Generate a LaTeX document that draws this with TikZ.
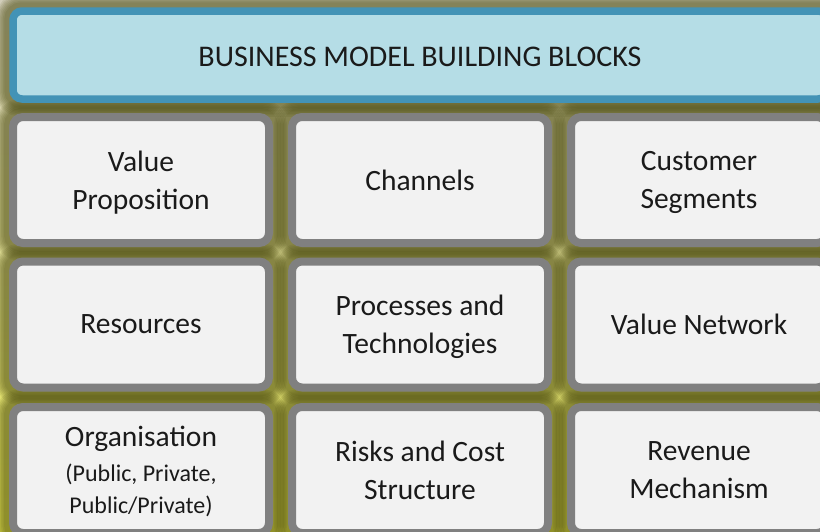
\documentclass[tikz,border=0pt]{standalone}
\usepackage{fontspec}
\setmainfont{Carlito}
\usetikzlibrary{backgrounds}
\definecolor{boxgray}{HTML}{808080}
\definecolor{boxfill}{HTML}{F2F2F2}
\definecolor{bannerline}{HTML}{4393B6}
\definecolor{bannerfill}{HTML}{B5DDE6}
\definecolor{bgtop}{HTML}{D2CEBA}
\definecolor{bgmid}{HTML}{D6D48A}
\definecolor{bgbot}{HTML}{E8E852}
\definecolor{halocol}{HTML}{45450A}
\definecolor{txt}{HTML}{1A1A1A}
\begin{document}
\begin{tikzpicture}[x=1pt,y=-1pt,
  blockbox/.style={draw=boxgray, line width=8pt, fill=boxfill, rounded corners=10pt,
    minimum width=256pt, minimum height=126pt, inner sep=0pt, align=center,
    text depth=0pt, text=txt, font=\fontsize{29.5}{38}\selectfont},
  banner/.style={draw=bannerline, line width=7.5pt, fill=bannerfill, rounded corners=9pt,
    minimum width=814pt, minimum height=88pt, inner sep=0pt, align=center,
    text height=22pt, text depth=0pt, text=txt, font=\fontsize{30}{36}\selectfont},
  halo/.style={draw=halocol, draw opacity=0.1, rounded corners=12pt}
]
\useasboundingbox (0,0) rectangle (820,531);

\node[banner] (title) at (420,55) {BUSINESS MODEL BUILDING BLOCKS};

\node[blockbox] (b11) at (141,180) {Value\\Proposition};
\node[blockbox] (b12) at (420,180) {Channels};
\node[blockbox] (b13) at (699,180) {Customer\\Segments};
\node[blockbox] (b21) at (141,324.5) {Resources};
\node[blockbox] (b22) at (420,324.5) {Processes and\\Technologies};
\node[blockbox] (b23) at (699,324.5) {Value Network};
\node[blockbox] (b31) at (141,470) {Organisation\\[-3pt]{\fontsize{24}{32}\selectfont (Public, Private,}\\[-6pt]{\fontsize{24}{32}\selectfont Public/Private)}};
\node[blockbox] (b32) at (420,470) {Risks and Cost\\Structure};
\node[blockbox] (b33) at (699,470) {Revenue\\Mechanism};

\begin{scope}[on background layer]
  \shade[top color=bgtop, bottom color=bgbot, middle color=bgmid] (0,0) rectangle (820,531);
  \foreach \n in {title,b11,b12,b13,b21,b22,b23,b31,b32,b33}{
    \foreach \w in {10,13,16,19,22,25,28}{
      \draw[halo, line width=\w pt] (\n.north west) rectangle (\n.south east);
    }
  }
\end{scope}
\end{tikzpicture}
\end{document}
